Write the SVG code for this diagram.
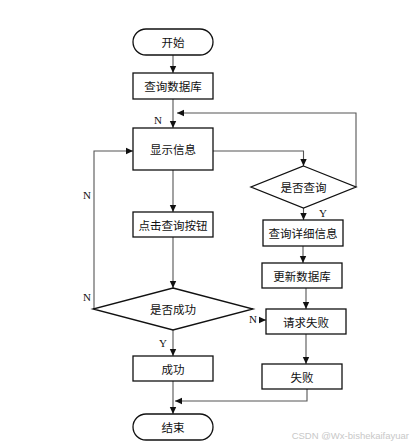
<svg xmlns="http://www.w3.org/2000/svg" width="413" height="447" viewBox="0 0 413 447">
<defs>
<marker id="ah" markerWidth="8" markerHeight="8" refX="7" refY="4" orient="auto" markerUnits="userSpaceOnUse">
<path d="M0,0.8 L7,4 L0,7.2 Z" fill="#111"/>
</marker>
<style>
.n{fill:#fff;stroke:#111;stroke-width:1.3}
.t{font-family:"Noto Sans CJK SC","Noto Sans CJK JP",sans-serif;font-size:11.5px;fill:#111;text-anchor:middle;dominant-baseline:central}
.l{font-family:"Liberation Serif",serif;font-size:11px;fill:#111}
.c{fill:none;stroke:#555;stroke-width:1.1;marker-end:url(#ah)}
.p{fill:none;stroke:#555;stroke-width:1.1}
</style>
</defs>
<rect width="413" height="447" fill="#fff"/>
<g id="connectors">
<path class="c" d="M173,55 V73"/>
<path class="c" d="M173,99 V128"/>
<path class="c" d="M356,187 V113 H177"/>
<path class="c" d="M213,151 H303.5 V166"/>
<path class="c" d="M173,170 V212"/>
<path class="c" d="M94,309 V151 H133"/>
<path class="c" d="M173,237 V288"/>
<path class="c" d="M303.5,208 V220"/>
<path class="c" d="M303,246 V263"/>
<path class="c" d="M306,288 V309"/>
<path class="c" d="M259,320 H266"/>
<path class="c" d="M173,330 V356"/>
<path class="c" d="M306,334 V364"/>
<path class="c" d="M173,381 V414"/>
<path class="c" d="M307,389 V401 H175"/>
</g>
<g id="start"><rect class="n" x="133" y="29" width="80" height="26" rx="13"/><text class="t" x="173" y="42">开始</text></g>
<g id="querydb"><rect class="n" x="133" y="73" width="80" height="26"/><text class="t" x="173" y="86">查询数据库</text></g>
<g id="show"><rect class="n" x="133" y="128" width="80" height="42"/><text class="t" x="173" y="149">显示信息</text></g>
<g id="isquery"><polygon class="n" points="303.5,166 356,187 303.5,208 251,187"/><text class="t" x="303.5" y="187">是否查询</text></g>
<g id="click"><rect class="n" x="133" y="212" width="80" height="25"/><text class="t" x="173" y="224.5">点击查询按钮</text></g>
<g id="detail"><rect class="n" x="263" y="220" width="80" height="26"/><text class="t" x="303" y="233">查询详细信息</text></g>
<g id="update"><rect class="n" x="262" y="263" width="80" height="25"/><text class="t" x="302" y="275.5">更新数据库</text></g>
<g id="issuccess"><polygon class="n" points="173,288 253,309 173,330 93,309"/><text class="t" x="173" y="309">是否成功</text></g>
<g id="reqfail"><rect class="n" x="266" y="309" width="80" height="25"/><text class="t" x="306" y="321.5">请求失败</text></g>
<g id="success"><rect class="n" x="133" y="356" width="80" height="25"/><text class="t" x="173" y="368.5">成功</text></g>
<g id="fail"><rect class="n" x="262" y="364" width="80" height="25"/><text class="t" x="302" y="376.5">失败</text></g>
<g id="end"><rect class="n" x="133" y="414" width="80" height="26" rx="13"/><text class="t" x="173" y="427">结束</text></g>
<g id="labels">
<text class="l" x="154" y="124">N</text>
<text class="l" x="83" y="199">N</text>
<text class="l" x="83" y="301">N</text>
<text class="l" x="319" y="217">Y</text>
<text class="l" x="159" y="347">Y</text>
<text class="l" x="249" y="323">N</text>
</g>
<text x="409" y="439" font-family="Liberation Sans,sans-serif" font-size="9.5" fill="#c8c8c8" text-anchor="end">CSDN @Wx-bishekaifayuar</text>
</svg>
